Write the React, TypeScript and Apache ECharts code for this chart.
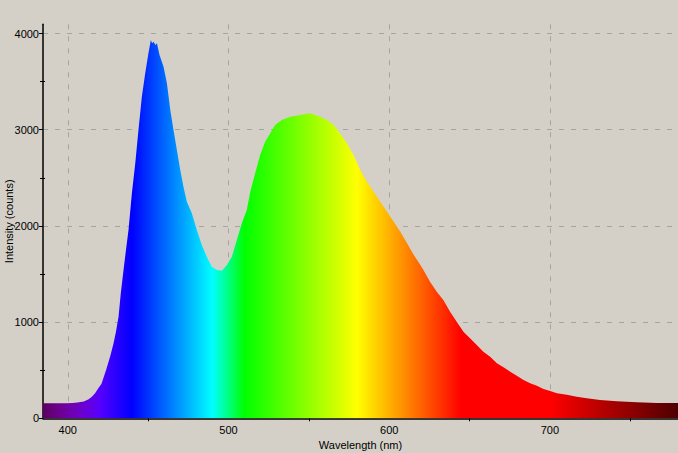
import React, { useEffect, useRef } from "react";
import * as echarts from "echarts";

const wavelengths = [
  384.6, 390, 395, 399, 403, 406, 410, 413, 415, 417, 419, 421, 424, 426.5, 428.5, 430, 431.6, 433, 434.7, 436,
  437.8, 439.9, 442, 444, 446.1, 448.2, 450.2, 451.7, 452.5, 453.4, 454.5, 455.5, 457.1, 459.6, 461.7, 463.8,
  465.8, 467.9, 470, 472, 474.1, 477.2, 480.3, 483.4, 486.5, 489.6, 492.8, 495.9, 499, 502.1, 505.2, 508.3,
  511.4, 513.5, 516.6, 519.7, 522.8, 525.9, 529, 533.2, 538.4, 544.6, 550.8, 557, 561.2, 565.4, 569.5, 573.7,
  577.8, 582, 586.1, 590.3, 594.4, 598.6, 602.8, 606.9, 611.1, 615.2, 619.4, 621.3, 625.4, 629.6, 633.7, 637.9,
  642, 646.2, 650.3, 654.5, 658.6, 662.8, 667, 671.1, 675.3, 679.4, 683.6, 687.7, 691.9, 696, 700.2, 704.3,
  710.5, 716.7, 722.9, 731.2, 741.6, 754, 766.5, 779.7,
];

const intensity = [
  156, 156, 156, 157, 160, 163, 175, 198, 225, 260, 312, 360, 510, 650, 780, 900, 1056, 1300, 1541, 1720,
  1957, 2339, 2650, 2997, 3343, 3586, 3794, 3933, 3900, 3915, 3880, 3898, 3776, 3655, 3482, 3205,
  2997, 2789, 2581, 2408, 2252, 2131, 1957, 1801, 1680, 1576, 1541, 1534, 1593, 1680, 1853, 2027,
  2165, 2350, 2547, 2737, 2875, 2962, 3049, 3101, 3135, 3153, 3170, 3135, 3101, 3049, 2962, 2858,
  2737, 2581, 2460, 2356, 2252, 2148, 2044, 1940, 1819, 1700, 1593, 1542, 1420, 1316, 1230, 1108,
  1004, 900, 832, 762, 692, 640, 572, 530, 484, 443, 398, 364, 339, 305, 284, 260,
  245, 225, 208, 190, 177, 166, 159, 159,
];

const xLabels = [400, 500, 600, 700];
const xMinorTicks = [450, 550, 650, 750];
const yLabels = [0, 1000, 2000, 3000, 4000];
const yMinorTicks = [500, 1500, 2500, 3500];

const X_MIN = 384.6;
const X_MAX = 779.7;
const Y_MAX = 4096;

function specColor(w: number): string {
  let r = 0, g = 0, b = 0;
  if (w < 440) { r = -(w - 440) / 60; b = 1; }
  else if (w < 490) { g = (w - 440) / 50; b = 1; }
  else if (w < 510) { g = 1; b = -(w - 510) / 20; }
  else if (w < 580) { r = (w - 510) / 70; g = 1; }
  else if (w < 645) { r = 1; g = -(w - 645) / 65; }
  else { r = 1; }
  let f = 1;
  if (w < 420) f = 0.3 + (0.7 * (w - 380)) / 40;
  else if (w > 700) f = 0.3 + (0.7 * (780 - w)) / 80;
  const c = (v: number) => Math.round(255 * Math.max(0, Math.min(1, v * f)));
  return `rgb(${c(r)},${c(g)},${c(b)})`;
}

export default function App() {
  const ref = useRef<HTMLDivElement>(null);
  useEffect(() => {
    if (!ref.current) return;
    const chart = echarts.init(ref.current, null, { renderer: "svg" });
    const stops: { offset: number; color: string }[] = [];
    for (let w = X_MIN; w <= X_MAX + 0.001; w += 1) {
      stops.push({ offset: (w - X_MIN) / (X_MAX - X_MIN), color: specColor(w) });
    }
    stops.push({ offset: 1, color: specColor(X_MAX) });
    const font = { fontFamily: "Liberation Sans", fontSize: 11, color: "#000" };
    const grid = "#a4a4a0";
    const fmt = (v: number) => String(v);
    chart.setOption({
      animation: false,
      backgroundColor: "#d4d0c8",
      grid: { left: 43, right: 0, top: 24.3, bottom: 34.7, containLabel: false, outerBoundsMode: "none" },
      xAxis: [
        {
          type: "value",
          min: X_MIN,
          max: X_MAX,
          name: "Wavelength (nm)",
          nameLocation: "middle",
          nameGap: 21,
          nameMoveOverlap: false,
          nameTextStyle: { ...font },
          axisLine: { show: true, onZero: false, lineStyle: { color: "#000", width: 1.5 } },
          axisTick: { show: false, customValues: xLabels },
          axisLabel: { ...font, margin: 6, customValues: xLabels, formatter: fmt },
          splitLine: {
            show: true,
            showMinLine: true,
            showMaxLine: true,
            lineStyle: { color: grid, type: [5, 7], width: 1 },
          },
        },
        {
          type: "value",
          min: X_MIN,
          max: X_MAX,
          position: "bottom",
          axisLine: { show: false },
          axisLabel: { show: false },
          splitLine: { show: false },
          axisTick: { show: true, length: 3, customValues: xMinorTicks, lineStyle: { color: "#000" } },
        },
      ],
      yAxis: [
        {
          type: "value",
          min: 0,
          max: Y_MAX,
          position: "left",
          name: "Intensity (counts)",
          nameLocation: "middle",
          nameGap: 29,
          nameMoveOverlap: false,
          nameTextStyle: { ...font },
          axisLine: { show: true, onZero: false, lineStyle: { color: "#000", width: 1.5 } },
          axisTick: { show: true, length: 4, customValues: yLabels, lineStyle: { color: "#000" } },
          axisLabel: { ...font, margin: 4, customValues: yLabels, formatter: fmt },
          splitLine: {
            show: true,
            showMinLine: false,
            showMaxLine: true,
            lineStyle: { color: grid, type: [5, 7], width: 1 },
          },
        },
        {
          type: "value",
          min: 0,
          max: Y_MAX,
          position: "left",
          axisLine: { show: false },
          axisLabel: { show: false },
          splitLine: { show: false },
          axisTick: { show: true, length: 3, customValues: yMinorTicks, lineStyle: { color: "#000" } },
        },
        {
          type: "value",
          min: 0,
          max: Y_MAX,
          position: "left",
          axisLine: { show: false },
          axisLabel: { show: false },
          splitLine: { show: false },
          axisTick: { show: true, inside: true, length: 2, customValues: yMinorTicks, lineStyle: { color: "#000" } },
        },
      ],
      series: [
        {
          type: "line",
          xAxisIndex: 0,
          yAxisIndex: 0,
          data: wavelengths.map((w, i) => [w, intensity[i]]),
          showSymbol: false,
          lineStyle: { width: 0 },
          areaStyle: {
            opacity: 1,
            color: { type: "linear", x: 0, y: 0, x2: 1, y2: 0, colorStops: stops },
          },
          z: 1,
        },
      ],
    });
    return () => chart.dispose();
  }, []);
  return (
    <div
      ref={ref}
      style={{ position: "fixed", left: 0, top: 0, width: 678, height: 453 }}
    />
  );
}
